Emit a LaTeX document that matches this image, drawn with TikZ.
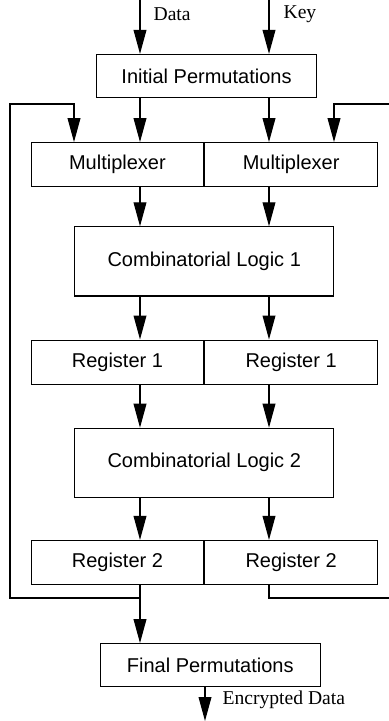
\documentclass[tikz,border=0pt]{standalone}
\usepackage{fontspec}
\setmainfont{Liberation Serif}
\setsansfont{Liberation Sans}
\usetikzlibrary{positioning,arrows.meta}

\begin{document}
\begin{tikzpicture}[line width=0.6pt,>={Triangle[length=12pt,width=6.4pt]},
  box/.style={draw,inner sep=0pt,font=\sffamily\fontsize{10}{12}\selectfont},
  half/.style={box,minimum width=86.25pt,minimum height=22pt},
  logic/.style={box,minimum width=129.5pt,minimum height=34.5pt},
  perm/.style={box,minimum width=110pt,minimum height=21.5pt},
  lbl/.style={inner sep=0pt,anchor=west,font=\fontsize{9.8}{12}\selectfont}]
\useasboundingbox (0,0) rectangle (194.5pt,-360.5pt);
\node[perm] (IP) at (103.25pt,-38pt) {Initial Permutations};
\node[half] (MuxL) [below left=22pt and 1.125pt of IP.south] {Multiplexer};
\node[half] (MuxR) [right=0pt of MuxL] {Multiplexer};
\node[logic] (CL1) [below=19.5pt of MuxL.south east] {Combinatorial Logic 1};
\node[half] (RegAL) [below left=21.5pt and 0pt of CL1.south] {Register 1};
\node[half] (RegAR) [right=0pt of RegAL] {Register 1};
\node[logic] (CL2) [below=21.5pt of RegAL.south east] {Combinatorial Logic 2};
\node[half] (RegBL) [below left=21pt and 0pt of CL2.south] {Register 2};
\node[half] (RegBR) [right=0pt of RegBL] {Register 2};
\node[perm] (FP) [below=29pt of RegBL.south east, xshift=3pt] {Final Permutations};
% columns and free ends
\coordinate (colL) at (70pt,0);
\coordinate (colR) at (134.5pt,0);
\coordinate (fbL) at (5pt,-299pt);
\coordinate (fbR) at (194.5pt,-299pt);
\coordinate (topL) at (5pt,-52pt);
\coordinate (topR) at (194.5pt,-52pt);
\coordinate (muxInL) at (37pt,-52pt);
\coordinate (muxInR) at (167pt,-52pt);
\coordinate (out) at (102.5pt,-360.5pt);
% inputs
\draw[->] (colL) -- (IP.north -| colL);
\draw[->] (colR) -- (IP.north -| colR);
\node[lbl] (DataLbl) at (76.5pt,-7pt) {Data};
\node[lbl] (KeyLbl) at (141.5pt,-7pt) {Key};
% data path
\draw[->] (IP.south -| colL) -- (MuxL.north -| colL);
\draw[->] (IP.south -| colR) -- (MuxR.north -| colR);
\draw[->] (MuxL.south -| colL) -- (CL1.north -| colL);
\draw[->] (MuxR.south -| colR) -- (CL1.north -| colR);
\draw[->] (CL1.south -| colL) -- (RegAL.north -| colL);
\draw[->] (CL1.south -| colR) -- (RegAR.north -| colR);
\draw[->] (RegAL.south -| colL) -- (CL2.north -| colL);
\draw[->] (RegAR.south -| colR) -- (CL2.north -| colR);
\draw[->] (CL2.south -| colL) -- (RegBL.north -| colL);
\draw[->] (CL2.south -| colR) -- (RegBR.north -| colR);
\draw[->] (RegBL.south -| colL) -- (FP.north -| colL);
% feedback
\draw[->] (RegBL.south -| colL) |- (fbL) -- (topL) -- (muxInL) -- (MuxL.north -| muxInL);
\draw (RegBR.south -| colR) |- (fbR);
\draw[->] (topR) -- (muxInR) -- (MuxR.north -| muxInR);
% output
\draw[->] (FP.south -| out) -- (out);
\node[lbl] (OutLbl) at (111pt,-350pt) {Encrypted Data};
\end{tikzpicture}
\end{document}
